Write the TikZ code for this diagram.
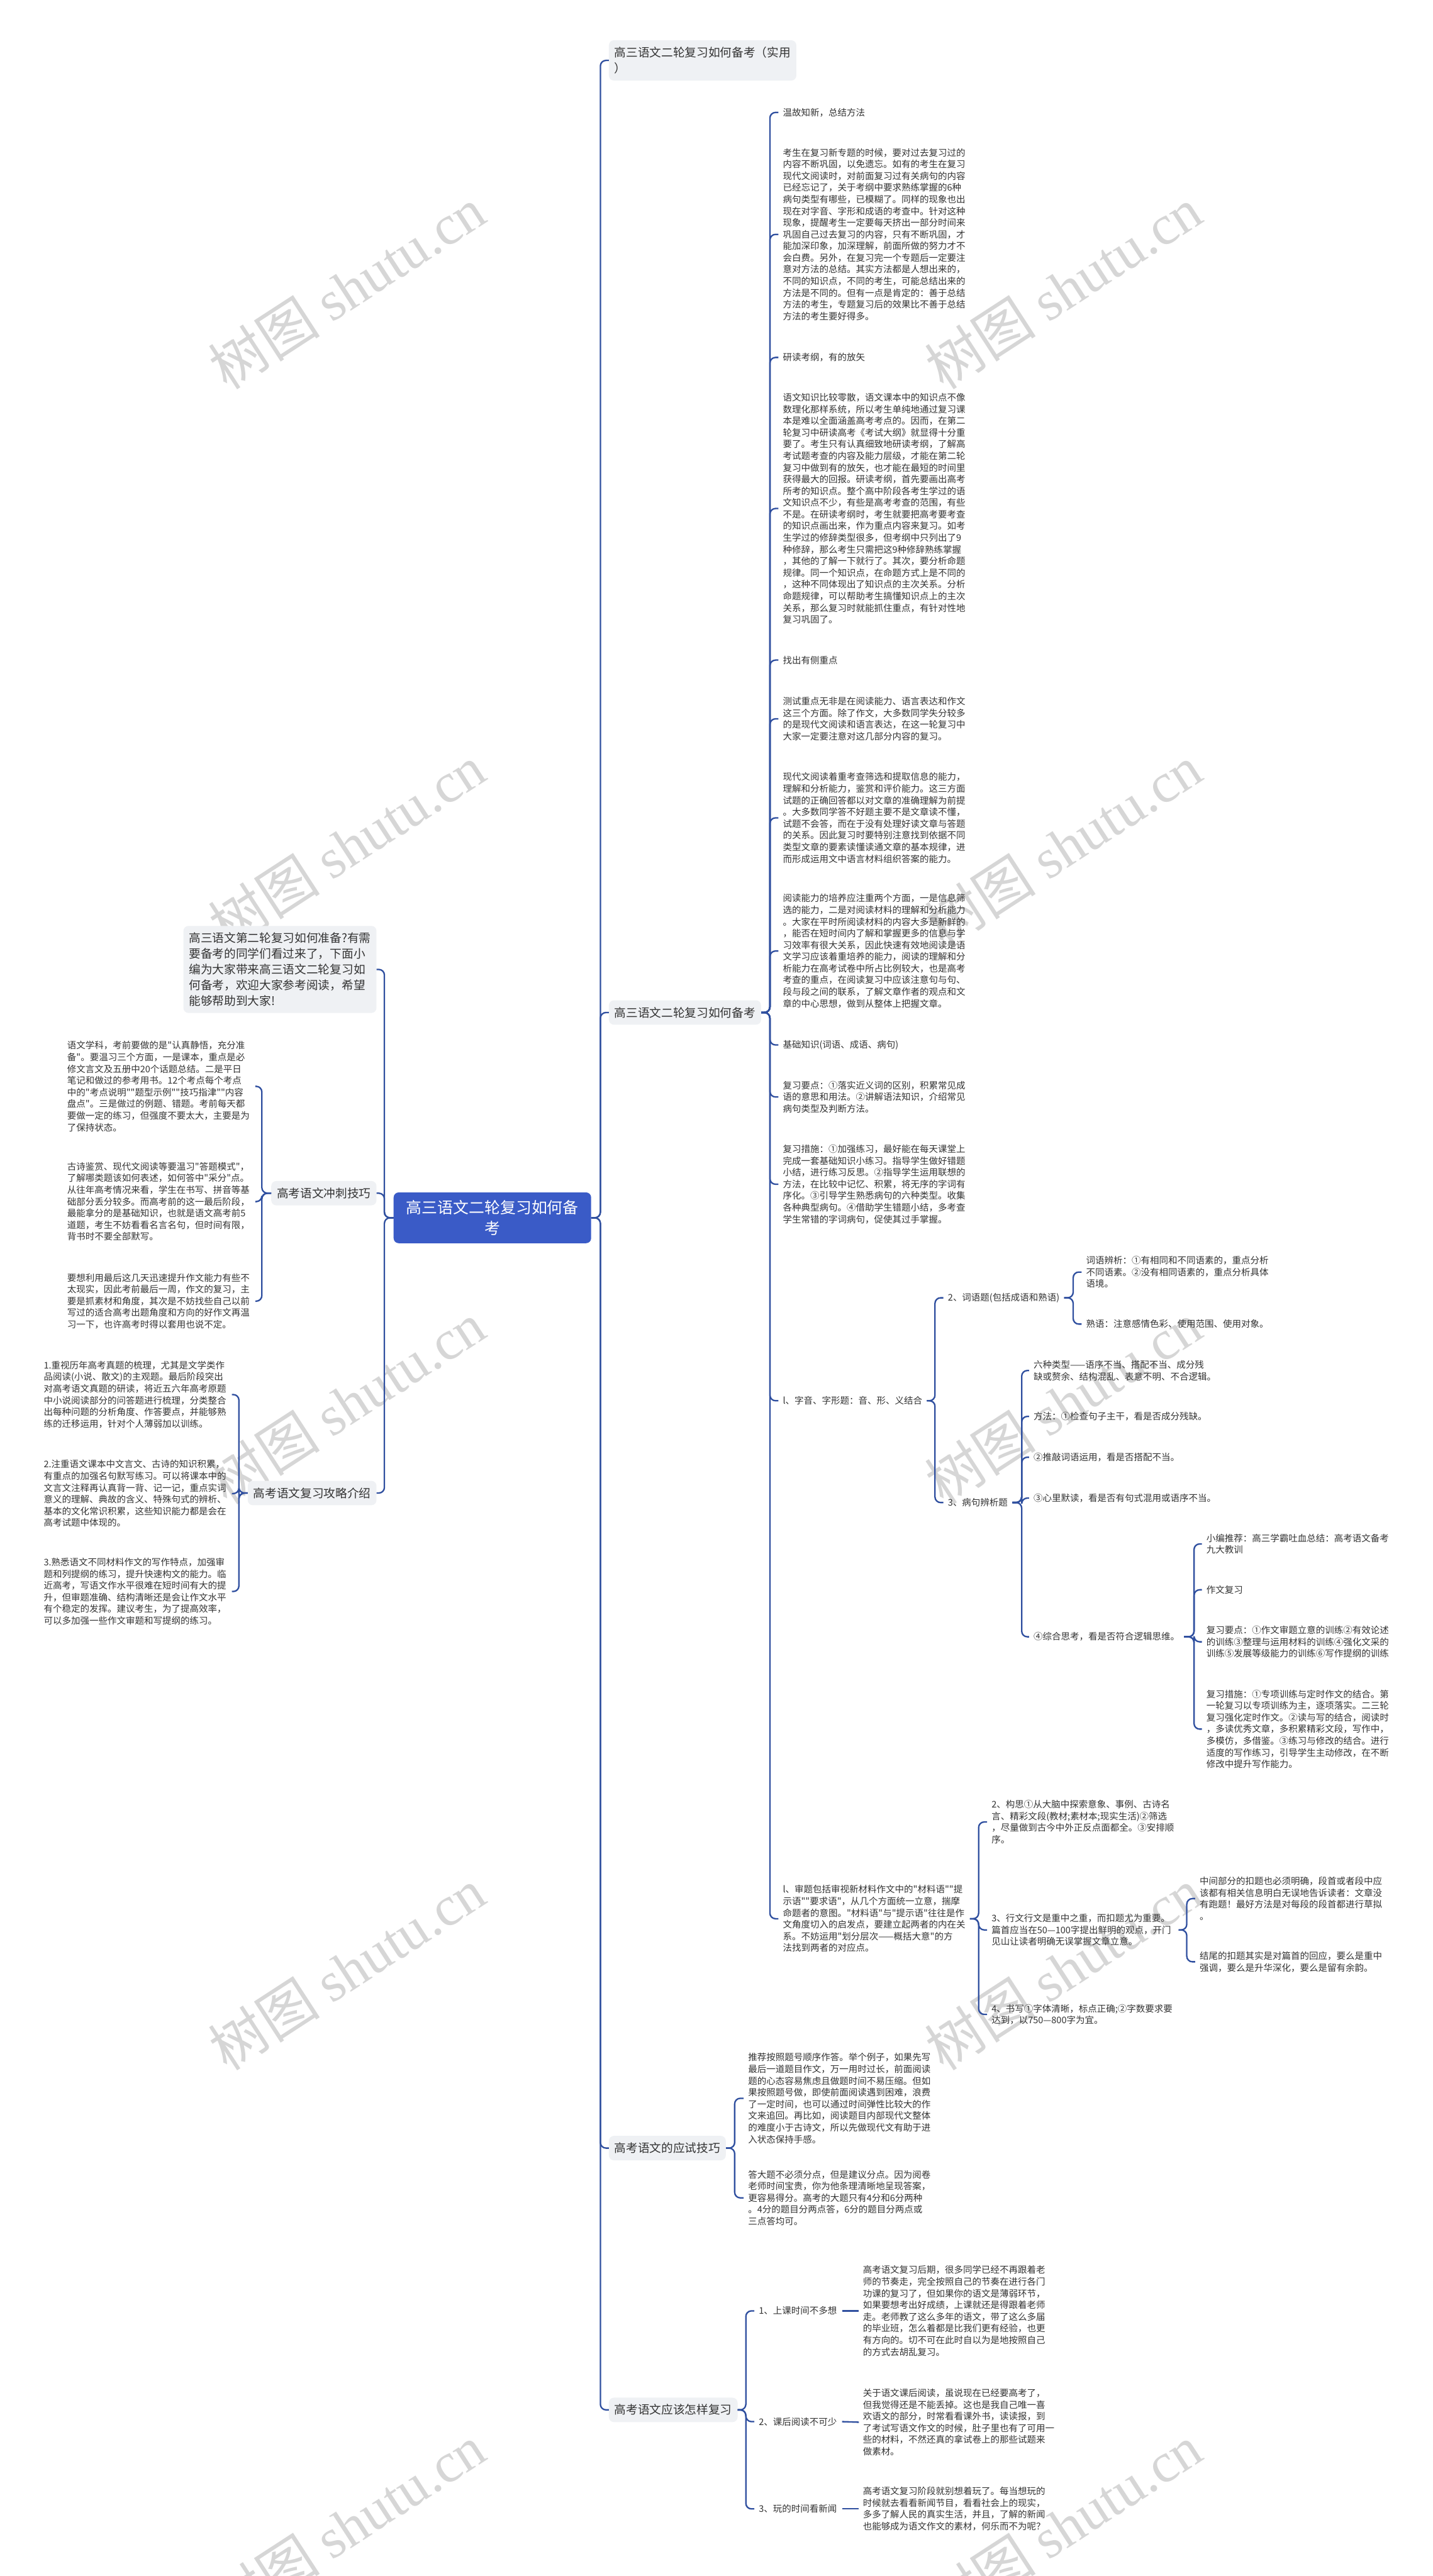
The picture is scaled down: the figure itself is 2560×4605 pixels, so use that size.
\documentclass[tikz,border=0pt]{standalone}
\usepackage{fontspec}
\setmainfont{Noto Sans CJK SC}[Ligatures=TeXOff]
\newfontfamily\wmlatin{Liberation Serif}
\definecolor{lineblue}{HTML}{2F4F9F}
\definecolor{rootfill}{HTML}{3A5BC7}
\definecolor{boxbg}{HTML}{EFF1F4}
\definecolor{txtc}{HTML}{333333}
\definecolor{wmc}{HTML}{D6D6D6}
\newcommand\mmcon[5]{\draw[ln] ([xshift=#4]#1.east) -- (#3 |- #1.east) |- ([xshift=-#5]#2.west);}
\newcommand\mmconl[5]{\draw[ln] ([xshift=-#4]#1.west) -- (#3 |- #1.west) |- ([xshift=#5]#2.east);}
\tikzset{
  ln/.style={draw=lineblue, line width=2.6pt, rounded corners=10pt},
  tx/.style={anchor=west, inner sep=0pt, align=left, text=txtc, font=\fontsize{16.3}{20.9}\selectfont},
  txw/.style={tx, text width=326pt},
  bx/.style={anchor=west, fill=boxbg, rounded corners=9pt, inner xsep=10pt, inner ysep=12pt, text=txtc, align=left, font=\fontsize{21}{28}\selectfont},
  rootbx/.style={fill=rootfill, text=white, rounded corners=9pt, align=center, inner xsep=22pt, inner ysep=14pt, minimum width=353pt, font=\fontsize{28}{37}\selectfont},
  wm/.style={rotate=33, text=wmc, inner sep=0pt, font=\fontsize{100}{100}\selectfont}
}
\begin{document}
\begin{tikzpicture}[x=1pt,y=-1pt]
\fill[white] (0,0) rectangle (2560,4605);
\useasboundingbox (0,0) rectangle (2560,4605);

% watermarks
\foreach \wx in {620,1900}{\foreach \wy in {515,1512,2508,3520,4515}{
  \node[wm] (wm\wx-\wy) at (\wx,\wy) {树图 {\wmlatin shutu.cn}};}}

% root and main branches
\node[rootbx] (root) at (880,2177) {高三语文二轮复习如何备\\考};
\node[bx] (B1) at (1088,108) {高三语文二轮复习如何备考（实用\\）};
\node[bx] (B2) at (1088,1810) {高三语文二轮复习如何备考};
\node[bx] (B3) at (1088,3840) {高考语文的应试技巧};
\node[bx] (B4) at (1088,4308) {高考语文应该怎样复习};
\node[bx,anchor=east] (L0) at (673,1733) {高三语文第二轮复习如何准备?有需\\要备考的同学们看过来了，下面小\\编为大家带来高三语文二轮复习如\\何备考，欢迎大家参考阅读，希望\\能够帮助到大家!};
\node[bx,anchor=east] (L1) at (673,2133) {高考语文冲刺技巧};
\node[bx,anchor=east] (L2) at (673,2669) {高考语文复习攻略介绍};

% spine coordinates
\coordinate (sR) at (1073,0);
\coordinate (sL) at (687,0);
\coordinate (sB2) at (1376,0);
\coordinate (sC12) at (1671,0);
\coordinate (sD1) at (1918,0);
\coordinate (sD2) at (1826,0);
\coordinate (sF5) at (2134,0);
\coordinate (sC13) at (1749,0);
\coordinate (sH2) at (2121,0);
\coordinate (sB3) at (1313,0);
\coordinate (sB4) at (1333,0);
\coordinate (sL1) at (468,0);
\coordinate (sL2) at (427,0);

% left texts
\node[txw] (la) at (120,1942) {语文学科，考前要做的是"认真静悟，充分准\\备"。要温习三个方面，一是课本，重点是必\\修文言文及五册中20个话题总结。二是平日\\笔记和做过的参考用书。12个考点每个考点\\中的"考点说明""题型示例""技巧指津""内容\\盘点"。三是做过的例题、错题。考前每天都\\要做一定的练习，但强度不要太大，主要是为\\了保持状态。};
\node[txw] (lb) at (120,2148) {古诗鉴赏、现代文阅读等要温习"答题模式"，\\了解哪类题该如何表述，如何答中"采分"点。\\从往年高考情况来看，学生在书写、拼音等基\\础部分丢分较多。而高考前的这一最后阶段，\\最能拿分的是基础知识，也就是语文高考前5\\道题，考生不妨看看名言名句，但时间有限，\\背书时不要全部默写。};
\node[txw] (lc) at (120,2326) {要想利用最后这几天迅速提升作文能力有些不\\太现实，因此考前最后一周，作文的复习，主\\要是抓素材和角度，其次是不妨找些自己以前\\写过的适合高考出题角度和方向的好作文再温\\习一下，也许高考时得以套用也说不定。};
\node[txw] (ma) at (78,2493) {1.重视历年高考真题的梳理，尤其是文学类作\\品阅读(小说、散文)的主观题。最后阶段突出\\对高考语文真题的研读，将近五六年高考原题\\中小说阅读部分的问答题进行梳理，分类整合\\出每种问题的分析角度、作答要点，并能够熟\\练的迁移运用，针对个人薄弱加以训练。};
\node[txw] (mb) at (78,2670) {2.注重语文课本中文言文、古诗的知识积累，\\有重点的加强名句默写练习。可以将课本中的\\文言文注释再认真背一背、记一记，重点实词\\意义的理解、典故的含义、特殊句式的辨析、\\基本的文化常识积累，这些知识能力都是会在\\高考试题中体现的。};
\node[txw] (mc) at (78,2845) {3.熟悉语文不同材料作文的写作特点，加强审\\题和列提纲的练习，提升快速构文的能力。临\\近高考，写语文作水平很难在短时间有大的提\\升，但审题准确、结构清晰还是会让作文水平\\有个稳定的发挥。建议考生，为了提高效率，\\可以多加强一些作文审题和写提纲的练习。};

% B2 children
\node[tx] (c1) at (1399,201) {温故知新，总结方法};
\node[txw] (c2) at (1399,419) {考生在复习新专题的时候，要对过去复习过的\\内容不断巩固，以免遗忘。如有的考生在复习\\现代文阅读时，对前面复习过有关病句的内容\\已经忘记了，关于考纲中要求熟练掌握的6种\\病句类型有哪些，已模糊了。同样的现象也出\\现在对字音、字形和成语的考查中。针对这种\\现象，提醒考生一定要每天挤出一部分时间来\\巩固自己过去复习的内容，只有不断巩固，才\\能加深印象，加深理解，前面所做的努力才不\\会白费。另外，在复习完一个专题后一定要注\\意对方法的总结。其实方法都是人想出来的，\\不同的知识点，不同的考生，可能总结出来的\\方法是不同的。但有一点是肯定的：善于总结\\方法的考生，专题复习后的效果比不善于总结\\方法的考生要好得多。};
\node[tx] (c3) at (1399,639) {研读考纲，有的放矢};
\node[txw] (c4) at (1399,909) {语文知识比较零散，语文课本中的知识点不像\\数理化那样系统，所以考生单纯地通过复习课\\本是难以全面涵盖高考考点的。因而，在第二\\轮复习中研读高考《考试大纲》就显得十分重\\要了。考生只有认真细致地研读考纲，了解高\\考试题考查的内容及能力层级，才能在第二轮\\复习中做到有的放矢，也才能在最短的时间里\\获得最大的回报。研读考纲，首先要画出高考\\所考的知识点。整个高中阶段各考生学过的语\\文知识点不少，有些是高考考查的范围，有些\\不是。在研读考纲时，考生就要把高考要考查\\的知识点画出来，作为重点内容来复习。如考\\生学过的修辞类型很多，但考纲中只列出了9\\种修辞，那么考生只需把这9种修辞熟练掌握\\，其他的了解一下就行了。其次，要分析命题\\规律。同一个知识点，在命题方式上是不同的\\，这种不同体现出了知识点的主次关系。分析\\命题规律，可以帮助考生搞懂知识点上的主次\\关系，那么复习时就能抓住重点，有针对性地\\复习巩固了。};
\node[tx] (c5) at (1399,1180) {找出有侧重点};
\node[txw] (c6) at (1399,1285) {测试重点无非是在阅读能力、语言表达和作文\\这三个方面。除了作文，大多数同学失分较多\\的是现代文阅读和语言表达，在这一轮复习中\\大家一定要注意对这几部分内容的复习。};
\node[txw] (c7) at (1399,1462) {现代文阅读着重考查筛选和提取信息的能力，\\理解和分析能力，鉴赏和评价能力。这三方面\\试题的正确回答都以对文章的准确理解为前提\\。大多数同学答不好题主要不是文章读不懂，\\试题不会答，而在于没有处理好读文章与答题\\的关系。因此复习时要特别注意找到依据不同\\类型文章的要素读懂读通文章的基本规律，进\\而形成运用文中语言材料组织答案的能力。};
\node[txw] (c8) at (1399,1700) {阅读能力的培养应注重两个方面，一是信息筛\\选的能力，二是对阅读材料的理解和分析能力\\。大家在平时所阅读材料的内容大多是新鲜的\\，能否在短时间内了解和掌握更多的信息与学\\习效率有很大关系，因此快速有效地阅读是语\\文学习应该着重培养的能力，阅读的理解和分\\析能力在高考试卷中所占比例较大，也是高考\\考查的重点，在阅读复习中应该注意句与句、\\段与段之间的联系，了解文章作者的观点和文\\章的中心思想，做到从整体上把握文章。};
\node[tx] (c9) at (1399,1868) {基础知识(词语、成语、病句)};
\node[txw] (c10) at (1399,1961) {复习要点：①落实近义词的区别，积累常见成\\语的意思和用法。②讲解语法知识，介绍常见\\病句类型及判断方法。};
\node[txw] (c11) at (1399,2117) {复习措施：①加强练习，最好能在每天课堂上\\完成一套基础知识小练习。指导学生做好错题\\小结，进行练习反思。②指导学生运用联想的\\方法，在比较中记忆、积累，将无序的字词有\\序化。③引导学生熟悉病句的六种类型。收集\\各种典型病句。④借助学生错题小结，多考查\\学生常错的字词病句，促使其过手掌握。};
\node[tx] (c12) at (1399,2504) {l、字音、字形题：音、形、义结合};
\node[txw] (c13) at (1399,3430) {l、审题包括审视新材料作文中的"材料语""提\\示语""要求语"，从几个方面统一立意，揣摩\\命题者的意图。"材料语"与"提示语"往往是作\\文角度切入的启发点，要建立起两者的内在关\\系。不妨运用"划分层次——概括大意"的方\\法找到两者的对应点。};

% c12 subtree
\node[tx] (d1) at (1694,2320) {2、词语题(包括成语和熟语)};
\node[tx] (d2) at (1694,2686) {3、病句辨析题};
\node[txw] (e1) at (1941,2274) {词语辨析：①有相同和不同语素的，重点分析\\不同语素。②没有相同语素的，重点分析具体\\语境。};
\node[tx] (e2) at (1941,2367) {熟语：注意感情色彩、使用范围、使用对象。};
\node[txw] (f1) at (1847,2450) {六种类型——语序不当、搭配不当、成分残\\缺或赘余、结构混乱、表意不明、不合逻辑。};
\node[tx] (f2) at (1847,2532) {方法：①检查句子主干，看是否成分残缺。};
\node[tx] (f3) at (1847,2605) {②推敲词语运用，看是否搭配不当。};
\node[tx] (f4) at (1847,2678) {③心里默读，看是否有句式混用或语序不当。};
\node[tx] (f5) at (1847,2926) {④综合思考，看是否符合逻辑思维。};
\node[txw] (g1) at (2156,2760) {小编推荐：高三学霸吐血总结：高考语文备考\\九大教训};
\node[tx] (g2) at (2156,2842) {作文复习};
\node[txw] (g3) at (2156,2935) {复习要点：①作文审题立意的训练②有效论述\\的训练③整理与运用材料的训练④强化文采的\\训练⑤发展等级能力的训练⑥写作提纲的训练};
\node[txw] (g4) at (2156,3091) {复习措施：①专项训练与定时作文的结合。第\\一轮复习以专项训练为主，逐项落实。二三轮\\复习强化定时作文。②读与写的结合，阅读时\\，多读优秀文章，多积累精彩文段，写作中，\\多模仿，多借鉴。③练习与修改的结合。进行\\适度的写作练习，引导学生主动修改，在不断\\修改中提升写作能力。};

% c13 subtree
\node[txw] (h1) at (1772,3257) {2、构思①从大脑中探索意象、事例、古诗名\\言、精彩文段(教材;素材本;现实生活)②筛选\\，尽量做到古今中外正反点面都全。③安排顺\\序。};
\node[txw] (h2) at (1772,3450) {3、行文行文是重中之重，而扣题尤为重要。\\篇首应当在50—100字提出鲜明的观点，开门\\见山让读者明确无误掌握文章立意。};
\node[txw] (h3) at (1772,3601) {4、书写①字体清晰，标点正确;②字数要求要\\达到，以750—800字为宜。};
\node[txw] (i1) at (2144,3394) {中间部分的扣题也必须明确，段首或者段中应\\该都有相关信息明白无误地告诉读者：文章没\\有跑题！最好方法是对每段的段首都进行草拟\\。};
\node[txw] (i2) at (2144,3507) {结尾的扣题其实是对篇首的回应，要么是重中\\强调，要么是升华深化，要么是留有余韵。};

% B3 children
\node[txw] (j1) at (1337,3751) {推荐按照题号顺序作答。举个例子，如果先写\\最后一道题目作文，万一用时过长，前面阅读\\题的心态容易焦虑且做题时间不易压缩。但如\\果按照题号做，即使前面阅读遇到困难，浪费\\了一定时间，也可以通过时间弹性比较大的作\\文来追回。再比如，阅读题目内部现代文整体\\的难度小于古诗文，所以先做现代文有助于进\\入状态保持手感。};
\node[txw] (j2) at (1337,3929) {答大题不必须分点，但是建议分点。因为阅卷\\老师时间宝贵，你为他条理清晰地呈现答案，\\更容易得分。高考的大题只有4分和6分两种\\。4分的题目分两点答，6分的题目分两点或\\三点答均可。};

% B4 children
\node[tx] (k1) at (1356,4131) {1、上课时间不多想};
\node[tx] (k2) at (1356,4329) {2、课后阅读不可少};
\node[tx] (k3) at (1356,4485) {3、玩的时间看新闻};
\node[txw] (k1t) at (1542,4131) {高考语文复习后期，很多同学已经不再跟着老\\师的节奏走，完全按照自己的节奏在进行各门\\功课的复习了，但如果你的语文是薄弱环节，\\如果要想考出好成绩，上课就还是得跟着老师\\走。老师教了这么多年的语文，带了这么多届\\的毕业班，怎么着都是比我们更有经验，也更\\有方向的。切不可在此时自以为是地按照自己\\的方式去胡乱复习。};
\node[txw] (k2t) at (1542,4330) {关于语文课后阅读，虽说现在已经要高考了，\\但我觉得还是不能丢掉。这也是我自己唯一喜\\欢语文的部分，时常看看课外书，读读报，到\\了考试写语文作文的时候，肚子里也有了可用一\\些的材料，不然还真的拿试卷上的那些试题来\\做素材。};
\node[txw] (k3t) at (1542,4485) {高考语文复习阶段就别想着玩了。每当想玩的\\时候就去看看新闻节目，看看社会上的现实，\\多多了解人民的真实生活，并且，了解的新闻\\也能够成为语文作文的素材，何乐而不为呢？};

% connectors
\foreach \b in {B1,B2,B3,B4}{\mmcon{root}{\b}{sR}{0pt}{0pt}}
\foreach \b in {L0,L1,L2}{\mmconl{root}{\b}{sL}{0pt}{0pt}}
\foreach \c in {c1,c2,c3,c4,c5,c6,c7,c8,c9,c10,c11,c12,c13}{\mmcon{B2}{\c}{sB2}{0pt}{8pt}}
\foreach \c in {d1,d2}{\mmcon{c12}{\c}{sC12}{8pt}{8pt}}
\foreach \c in {e1,e2}{\mmcon{d1}{\c}{sD1}{8pt}{8pt}}
\foreach \c in {f1,f2,f3,f4,f5}{\mmcon{d2}{\c}{sD2}{8pt}{8pt}}
\foreach \c in {g1,g2,g3,g4}{\mmcon{f5}{\c}{sF5}{8pt}{8pt}}
\foreach \c in {h1,h2,h3}{\mmcon{c13}{\c}{sC13}{8pt}{8pt}}
\foreach \c in {i1,i2}{\mmcon{h2}{\c}{sH2}{8pt}{8pt}}
\foreach \c in {j1,j2}{\mmcon{B3}{\c}{sB3}{0pt}{8pt}}
\foreach \c in {k1,k2,k3}{\mmcon{B4}{\c}{sB4}{0pt}{8pt}}
\foreach \c in {la,lb,lc}{\mmconl{L1}{\c}{sL1}{0pt}{10pt}}
\foreach \c in {ma,mb,mc}{\mmconl{L2}{\c}{sL2}{0pt}{10pt}}
\draw[ln] ([xshift=9pt]k1.east) -- ([xshift=-7pt]k1t.west);
\draw[ln] ([xshift=9pt]k2.east) -- ([xshift=-7pt]k2t.west);
\draw[ln] ([xshift=9pt]k3.east) -- ([xshift=-7pt]k3t.west);
\end{tikzpicture}
\end{document}
